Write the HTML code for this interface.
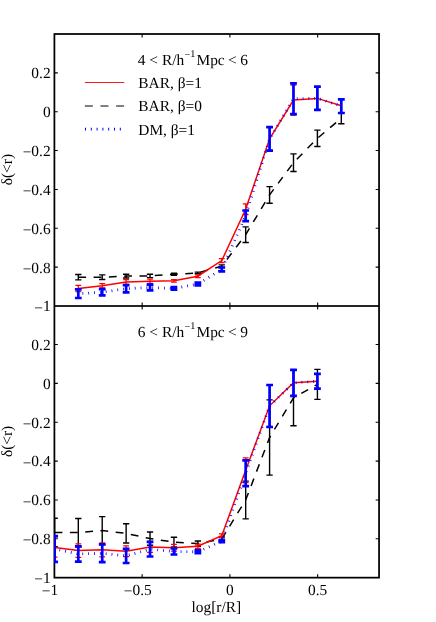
<!DOCTYPE html>
<html><head><meta charset="utf-8"><title>chart</title>
<style>html,body{margin:0;padding:0;background:#fff;}svg{display:block;will-change:transform;}text{font-family:"Liberation Serif",serif;font-size:15.4px;fill:#000;text-rendering:geometricPrecision;}</style></head><body>
<svg width="436" height="622" viewBox="0 0 436 622">
<rect x="0" y="0" width="436" height="622" fill="#fff"/>
<defs>
<clipPath id="c1"><rect x="54.10" y="34.00" width="324.95" height="272.00"/></clipPath>
<clipPath id="c2"><rect x="54.10" y="306.00" width="324.95" height="271.65"/></clipPath>
</defs>
<g fill="none" stroke="#000">
<rect x="54.40" y="34.00" width="324.65" height="543.65" stroke-width="1.75"/>
<rect x="54.40" y="305.15" width="324.65" height="1.7" fill="#000" stroke="none"/>
<path d="M142.15 34.00v3.40M142.15 302.60v6.80M142.15 577.65v-3.40M229.90 34.00v3.40M229.90 302.60v6.80M229.90 577.65v-3.40M317.65 34.00v3.40M317.65 302.60v6.80M317.65 577.65v-3.40M54.40 72.86h3.40M379.05 72.86h-3.40M54.40 344.51h3.40M379.05 344.51h-3.40M54.40 111.71h3.40M379.05 111.71h-3.40M54.40 383.36h3.40M379.05 383.36h-3.40M54.40 150.57h3.40M379.05 150.57h-3.40M54.40 422.22h3.40M379.05 422.22h-3.40M54.40 189.43h3.40M379.05 189.43h-3.40M54.40 461.08h3.40M379.05 461.08h-3.40M54.40 228.29h3.40M379.05 228.29h-3.40M54.40 499.94h3.40M379.05 499.94h-3.40M54.40 267.14h3.40M379.05 267.14h-3.40M54.40 538.79h3.40M379.05 538.79h-3.40" stroke-width="1.1"/>
</g>
<g clip-path="url(#c1)">
<path d="M78.30 277.20 L102.21 277.20 L126.12 276.10 L150.03 275.90 L173.94 274.30 L197.85 272.90 L221.76 266.20 L245.67 234.70 L269.58 194.90 L293.49 162.70 L317.40 138.30 L341.31 118.30" fill="none" stroke="#000" stroke-width="1.5" stroke-dasharray="7.8 7.5" stroke-dashoffset="0"/>
<path d="M78.30 274.50V279.90M75.15 274.50H81.45M75.15 279.90H81.45M102.21 274.90V279.50M99.06 274.90H105.36M99.06 279.50H105.36M126.12 274.20V278.00M122.97 274.20H129.27M122.97 278.00H129.27M150.03 274.20V277.60M146.88 274.20H153.18M146.88 277.60H153.18M173.94 273.30V275.30M170.79 273.30H177.09M170.79 275.30H177.09M197.85 272.10V273.70M194.70 272.10H201.00M194.70 273.70H201.00M221.76 264.90V267.50M218.61 264.90H224.91M218.61 267.50H224.91M245.67 226.90V242.50M242.52 226.90H248.82M242.52 242.50H248.82M269.58 186.60V203.20M266.43 186.60H272.73M266.43 203.20H272.73M293.49 153.90V171.50M290.34 153.90H296.64M290.34 171.50H296.64M317.40 130.10V146.50M314.25 130.10H320.55M314.25 146.50H320.55M341.31 112.80V123.80M338.16 112.80H344.46M338.16 123.80H344.46" fill="none" stroke="#000" stroke-width="1.4"/>
</g>
<g clip-path="url(#c1)">
<path d="M78.30 288.50 L102.21 285.70 L126.12 282.00 L150.03 281.30 L173.94 280.80 L197.85 276.20 L221.76 260.60 L245.67 209.30 L269.58 138.80 L293.49 100.00 L317.40 98.40 L341.31 105.80" fill="none" stroke="#f00" stroke-width="1.5"/>
<path d="M78.30 285.40V291.60M75.40 285.40H81.20M75.40 291.60H81.20M102.21 283.50V287.90M99.31 283.50H105.11M99.31 287.90H105.11M126.12 279.60V284.40M123.22 279.60H129.02M123.22 284.40H129.02M150.03 279.20V283.40M147.13 279.20H152.93M147.13 283.40H152.93M173.94 279.60V282.00M171.04 279.60H176.84M171.04 282.00H176.84M197.85 274.80V277.60M194.95 274.80H200.75M194.95 277.60H200.75M221.76 258.70V262.50M218.86 258.70H224.66M218.86 262.50H224.66M245.67 203.90V214.70M242.77 203.90H248.57M242.77 214.70H248.57M269.58 127.30V150.30M266.68 127.30H272.48M266.68 150.30H272.48M293.49 85.00V115.00M290.59 85.00H296.39M290.59 115.00H296.39M317.40 86.90V109.90M314.50 86.90H320.30M314.50 109.90H320.30M341.31 98.90V112.70M338.41 98.90H344.21M338.41 112.70H344.21" fill="none" stroke="#f00" stroke-width="1.25"/>
</g>
<g clip-path="url(#c1)">
<path d="M78.30 293.70 L102.21 292.20 L126.12 288.70 L150.03 287.50 L173.94 288.40 L197.85 284.00 L221.76 269.40 L245.67 215.80 L269.58 138.85 L293.49 98.75 L317.40 98.30 L341.31 106.20" fill="none" stroke="#00f" stroke-width="2.8" stroke-dasharray="0.8 5.05" stroke-dashoffset="1.7"/>
<path d="M78.30 289.40V298.00M74.90 289.40H81.70M74.90 298.00H81.70M102.21 289.10V295.30M98.81 289.10H105.61M98.81 295.30H105.61M126.12 285.10V292.30M122.72 285.10H129.52M122.72 292.30H129.52M150.03 284.70V290.30M146.63 284.70H153.43M146.63 290.30H153.43M173.94 287.20V289.60M170.54 287.20H177.34M170.54 289.60H177.34M197.85 282.60V285.40M194.45 282.60H201.25M194.45 285.40H201.25M221.76 267.50V271.30M218.36 267.50H225.16M218.36 271.30H225.16M245.67 210.50V221.10M242.27 210.50H249.07M242.27 221.10H249.07M269.58 127.15V150.55M266.18 127.15H272.98M266.18 150.55H272.98M293.49 83.45V114.05M290.09 83.45H296.89M290.09 114.05H296.89M317.40 86.70V109.90M314.00 86.70H320.80M314.00 109.90H320.80M341.31 99.40V113.00M337.91 99.40H344.71M337.91 113.00H344.71" fill="none" stroke="#00f" stroke-width="2.7"/>
</g>
<g clip-path="url(#c2)">
<path d="M54.65 532.50 L78.31 532.60 L102.22 530.60 L126.13 533.40 L150.04 538.60 L173.95 542.10 L197.86 543.60 L221.77 539.00 L245.68 500.00 L269.59 437.50 L293.50 397.90 L317.41 384.40" fill="none" stroke="#000" stroke-width="1.5" stroke-dasharray="7.8 7.5" stroke-dashoffset="0"/>
<path d="M54.65 518.30V546.70M51.50 518.30H57.80M51.50 546.70H57.80M78.31 518.50V546.70M75.16 518.50H81.46M75.16 546.70H81.46M102.22 516.60V544.60M99.07 516.60H105.37M99.07 544.60H105.37M126.13 523.80V543.00M122.98 523.80H129.28M122.98 543.00H129.28M150.04 532.00V545.20M146.89 532.00H153.19M146.89 545.20H153.19M173.95 537.30V546.90M170.80 537.30H177.10M170.80 546.90H177.10M197.86 541.00V546.20M194.71 541.00H201.01M194.71 546.20H201.01M221.77 537.00V541.00M218.62 537.00H224.92M218.62 541.00H224.92M245.68 481.10V518.90M242.53 481.10H248.83M242.53 518.90H248.83M269.59 399.90V475.10M266.44 399.90H272.74M266.44 475.10H272.74M293.50 370.10V425.70M290.35 370.10H296.65M290.35 425.70H296.65M317.41 369.40V399.40M314.26 369.40H320.56M314.26 399.40H320.56" fill="none" stroke="#000" stroke-width="1.4"/>
</g>
<g clip-path="url(#c2)">
<path d="M54.65 547.60 L78.31 550.60 L102.22 549.80 L126.13 551.20 L150.04 546.90 L173.95 547.80 L197.86 546.20 L221.77 535.80 L245.68 470.20 L269.59 405.80 L293.50 382.70 L317.41 381.30" fill="none" stroke="#f00" stroke-width="1.5"/>
<path d="M54.65 538.00V557.20M51.75 538.00H57.55M51.75 557.20H57.55M78.31 543.90V557.30M75.41 543.90H81.21M75.41 557.30H81.21M102.22 542.80V556.80M99.32 542.80H105.12M99.32 556.80H105.12M126.13 545.90V556.50M123.23 545.90H129.03M123.23 556.50H129.03M150.04 541.40V552.40M147.14 541.40H152.94M147.14 552.40H152.94M173.95 544.40V551.20M171.05 544.40H176.85M171.05 551.20H176.85M197.86 544.10V548.30M194.96 544.10H200.76M194.96 548.30H200.76M221.77 533.90V537.70M218.87 533.90H224.67M218.87 537.70H224.67M245.68 457.80V482.60M242.78 457.80H248.58M242.78 482.60H248.58M269.59 385.30V426.30M266.69 385.30H272.49M266.69 426.30H272.49M293.50 369.70V395.70M290.60 369.70H296.40M290.60 395.70H296.40M317.41 373.90V388.70M314.51 373.90H320.31M314.51 388.70H320.31" fill="none" stroke="#f00" stroke-width="1.25"/>
</g>
<g clip-path="url(#c2)">
<path d="M54.65 549.00 L78.31 554.00 L102.22 553.30 L126.13 555.90 L150.04 549.20 L173.95 551.50 L197.86 551.80 L221.77 541.20 L245.68 473.30 L269.59 406.00 L293.50 382.80 L317.41 381.20" fill="none" stroke="#00f" stroke-width="2.8" stroke-dasharray="0.8 5.05" stroke-dashoffset="1.0"/>
<path d="M54.65 536.10V561.90M51.25 536.10H58.05M51.25 561.90H58.05M78.31 546.40V561.60M74.91 546.40H81.71M74.91 561.60H81.71M102.22 544.40V562.20M98.82 544.40H105.62M98.82 562.20H105.62M126.13 548.80V563.00M122.73 548.80H129.53M122.73 563.00H129.53M150.04 541.90V556.50M146.64 541.90H153.44M146.64 556.50H153.44M173.95 548.50V554.50M170.55 548.50H177.35M170.55 554.50H177.35M197.86 550.40V553.20M194.46 550.40H201.26M194.46 553.20H201.26M221.77 540.20V542.20M218.37 540.20H225.17M218.37 542.20H225.17M245.68 460.40V486.20M242.28 460.40H249.08M242.28 486.20H249.08M269.59 385.00V427.00M266.19 385.00H272.99M266.19 427.00H272.99M293.50 369.80V395.80M290.10 369.80H296.90M290.10 395.80H296.90M317.41 373.80V388.60M314.01 373.80H320.81M314.01 388.60H320.81" fill="none" stroke="#00f" stroke-width="2.7"/>
</g>
<path d="M84.9 82.5H124.3" stroke="#f00" stroke-width="0.9" fill="none"/>
<path d="M84.9 106H124.3" stroke="#000" stroke-width="1" fill="none" stroke-dasharray="8 7.6"/>
<path d="M85 129.1H122" stroke="#00f" stroke-width="2.9" fill="none" stroke-dasharray="1 4.8"/>
<text x="50.6" y="78.26" text-anchor="end">0.2</text>
<text x="50.6" y="117.11" text-anchor="end">0</text>
<text x="50.6" y="155.97" text-anchor="end"><tspan dy="1.3">−</tspan><tspan dy="-1.3">0.2</tspan></text>
<text x="50.6" y="194.83" text-anchor="end"><tspan dy="1.3">−</tspan><tspan dy="-1.3">0.4</tspan></text>
<text x="50.6" y="233.69" text-anchor="end"><tspan dy="1.3">−</tspan><tspan dy="-1.3">0.6</tspan></text>
<text x="50.6" y="272.54" text-anchor="end"><tspan dy="1.3">−</tspan><tspan dy="-1.3">0.8</tspan></text>
<text x="50.6" y="311.40" text-anchor="end"><tspan dy="1.3">−</tspan><tspan dy="-1.3">1</tspan></text>
<text x="50.6" y="349.91" text-anchor="end">0.2</text>
<text x="50.6" y="388.76" text-anchor="end">0</text>
<text x="50.6" y="427.62" text-anchor="end"><tspan dy="1.3">−</tspan><tspan dy="-1.3">0.2</tspan></text>
<text x="50.6" y="466.48" text-anchor="end"><tspan dy="1.3">−</tspan><tspan dy="-1.3">0.4</tspan></text>
<text x="50.6" y="505.34" text-anchor="end"><tspan dy="1.3">−</tspan><tspan dy="-1.3">0.6</tspan></text>
<text x="50.6" y="544.19" text-anchor="end"><tspan dy="1.3">−</tspan><tspan dy="-1.3">0.8</tspan></text>
<text x="50.6" y="583.05" text-anchor="end"><tspan dy="1.3">−</tspan><tspan dy="-1.3">1</tspan></text>
<text x="50.55" y="596.2" text-anchor="end">−</text>
<text x="50.55" y="594.9">1</text>
<text x="132.53" y="596.2" text-anchor="end">−</text>
<text x="132.53" y="594.9">0.5</text>
<text x="226.05" y="594.9">0</text>
<text x="308.02" y="594.9">0.5</text>
<text x="216.3" y="612" text-anchor="middle">log[r/R]</text>
<text transform="translate(12.0 169.60) rotate(-90)" text-anchor="middle">δ(&lt;r)</text>
<text transform="translate(12.0 441.43) rotate(-90)" text-anchor="middle">δ(&lt;r)</text>
<text x="137.7" y="65.30" style="word-spacing:0.1px">4 &lt; R/h</text>
<text x="184.5" y="57.40" style="font-size:10.3px"><tspan dy="0.8">−</tspan><tspan dy="-0.8">1</tspan></text>
<text x="196.6" y="65.30" style="letter-spacing:-0.14px">Mpc &lt; 6</text>
<text x="137.7" y="337.30" style="word-spacing:0.1px">6 &lt; R/h</text>
<text x="184.5" y="329.40" style="font-size:10.3px"><tspan dy="0.8">−</tspan><tspan dy="-0.8">1</tspan></text>
<text x="196.6" y="337.30" style="letter-spacing:-0.14px">Mpc &lt; 9</text>
<text x="138.3" y="87.8">BAR, β=1</text>
<text x="138.3" y="111.2">BAR, β=0</text>
<text x="138.3" y="134.6">DM, β=1</text>
</svg></body></html>
